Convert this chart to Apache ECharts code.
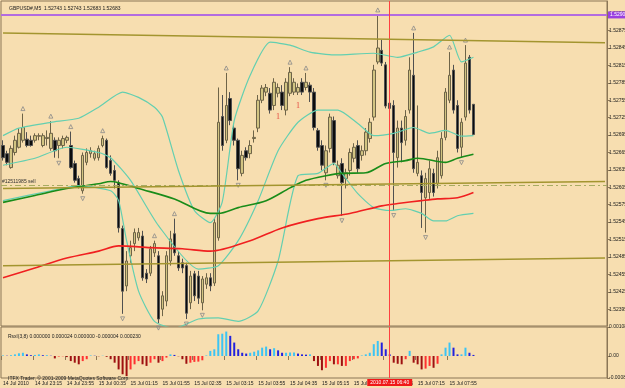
<!DOCTYPE html>
<html>
<head>
<meta charset="utf-8">
<script src="https://cdn.jsdelivr.net/npm/echarts@6/dist/echarts.min.js"></script>
<style>
html,body{margin:0;padding:0;background:#f7deb0;}
#main{width:625px;height:388px;}
</style>
</head>
<body>
<div id="main"></div>
<script>
// M5 bars: [open, close, low, high]
var candles = [
[1.52677,1.52656,1.52651,1.52686],[1.52663,1.52648,1.52643,1.52668],[1.52639,1.52672,1.52637,1.52677],
[1.52665,1.52686,1.52660,1.52694],[1.52674,1.52698,1.52672,1.52707],[1.52686,1.52708,1.52682,1.52732],
[1.52688,1.52677,1.52674,1.52700],[1.52686,1.52677,1.52675,1.52694],[1.52686,1.52694,1.52682,1.52698],
[1.52693,1.52694,1.52686,1.52698],[1.52677,1.52694,1.52674,1.52698],[1.52689,1.52691,1.52677,1.52703],
[1.52672,1.52698,1.52668,1.52719],[1.52686,1.52668,1.52656,1.52691],[1.52677,1.52686,1.52655,1.52691],
[1.52677,1.52689,1.52672,1.52694],[1.52686,1.52691,1.52681,1.52694],[1.52677,1.52639,1.52637,1.52701],
[1.52646,1.52617,1.52613,1.52651],[1.52620,1.52608,1.52603,1.52625],[1.52599,1.52660,1.52594,1.52665],
[1.52648,1.52665,1.52643,1.52672],[1.52663,1.52668,1.52656,1.52674],[1.52655,1.52663,1.52651,1.52668],
[1.52656,1.52672,1.52651,1.52677],[1.52677,1.52689,1.52674,1.52694],[1.52686,1.52639,1.52637,1.52689],
[1.52651,1.52629,1.52625,1.52660],[1.52634,1.52617,1.52603,1.52643],[1.52613,1.52535,1.52527,1.52617],
[1.52534,1.52426,1.52387,1.52539],[1.52435,1.52478,1.52426,1.52495],[1.52487,1.52501,1.52475,1.52513],
[1.52508,1.52527,1.52495,1.52534],[1.52518,1.52527,1.52513,1.52535],[1.52521,1.52449,1.52444,1.52530],
[1.52457,1.52447,1.52440,1.52464],[1.52457,1.52499,1.52452,1.52504],[1.52492,1.52508,1.52485,1.52513],
[1.52487,1.52378,1.52371,1.52495],[1.52395,1.52418,1.52383,1.52426],[1.52409,1.52487,1.52400,1.52495],
[1.52478,1.52516,1.52470,1.52530],[1.52525,1.52492,1.52487,1.52551],[1.52487,1.52466,1.52461,1.52495],
[1.52475,1.52466,1.52457,1.52482],[1.52470,1.52388,1.52378,1.52475],[1.52406,1.52452,1.52395,1.52461],
[1.52456,1.52418,1.52409,1.52461],[1.52452,1.52414,1.52404,1.52461],[1.52406,1.52447,1.52393,1.52452],
[1.52438,1.52449,1.52430,1.52457],[1.52449,1.52435,1.52426,1.52457],[1.52440,1.52544,1.52435,1.52551],
[1.52518,1.52717,1.52513,1.52777],[1.52727,1.52677,1.52668,1.52764],[1.52686,1.52746,1.52681,1.52802],
[1.52758,1.52720,1.52712,1.52769],[1.52707,1.52686,1.52677,1.52712],[1.52686,1.52637,1.52617,1.52689],
[1.52629,1.52660,1.52624,1.52668],[1.52668,1.52656,1.52651,1.52674],[1.52663,1.52677,1.52655,1.52686],
[1.52689,1.52691,1.52682,1.52703],[1.52707,1.52755,1.52700,1.52764],[1.52755,1.52776,1.52750,1.52781],
[1.52769,1.52777,1.52762,1.52783],[1.52767,1.52738,1.52732,1.52776],[1.52746,1.52786,1.52738,1.52793],
[1.52767,1.52777,1.52760,1.52784],[1.52769,1.52746,1.52738,1.52781],[1.52738,1.52786,1.52729,1.52793],
[1.52767,1.52803,1.52762,1.52812],[1.52769,1.52786,1.52764,1.52793],[1.52769,1.52777,1.52764,1.52784],
[1.52786,1.52769,1.52764,1.52793],[1.52777,1.52786,1.52772,1.52802],[1.52781,1.52769,1.52752,1.52786],
[1.52769,1.52708,1.52703,1.52776],[1.52703,1.52674,1.52668,1.52707],[1.52677,1.52643,1.52634,1.52686],
[1.52630,1.52668,1.52617,1.52677],[1.52672,1.52726,1.52665,1.52732],[1.52720,1.52648,1.52643,1.52727],
[1.52625,1.52643,1.52620,1.52651],[1.52646,1.52613,1.52556,1.52655],[1.52620,1.52630,1.52603,1.52637],
[1.52634,1.52665,1.52625,1.52672],[1.52655,1.52674,1.52648,1.52681],[1.52677,1.52637,1.52630,1.52686],
[1.52660,1.52668,1.52651,1.52677],[1.52668,1.52700,1.52660,1.52707],[1.52689,1.52717,1.52682,1.52724],
[1.52726,1.52807,1.52720,1.52816],[1.52821,1.52845,1.52817,1.52902],[1.52841,1.52819,1.52814,1.52859],
[1.52816,1.52745,1.52741,1.52821],[1.52750,1.52741,1.52734,1.52755],[1.52746,1.52665,1.52565,1.52755],
[1.52656,1.52707,1.52639,1.52720],[1.52707,1.52682,1.52648,1.52720],[1.52686,1.52727,1.52677,1.52738],
[1.52738,1.52807,1.52732,1.52829],[1.52798,1.52637,1.52630,1.52871],[1.52629,1.52648,1.52624,1.52746],
[1.52625,1.52596,1.52535,1.52634],[1.52587,1.52620,1.52527,1.52630],[1.52596,1.52637,1.52585,1.52651],
[1.52629,1.52596,1.52589,1.52637],[1.52611,1.52656,1.52603,1.52668],[1.52625,1.52689,1.52620,1.52700],
[1.52691,1.52769,1.52686,1.52776],[1.52755,1.52798,1.52750,1.52838],[1.52807,1.52738,1.52732,1.52816],
[1.52746,1.52672,1.52665,1.52755],[1.52674,1.52717,1.52656,1.52724],[1.52726,1.52819,1.52720,1.52850],
[1.52829,1.52738,1.52732,1.52833],[1.52748,1.52696,1.52696,1.52748]
];

// lower window histogram
var rsx = [
0.00002,0.00001,0.00003,0.00006,0.00010,0.00012,0.00006,0.00003,0.00004,0.00006,
0.00003,0.00003,0.00001,-0.00009,-0.00002,-0.00001,-0.00004,-0.00019,-0.00025,-0.00031,
-0.00019,-0.00012,0.00002,0.00001,-0.00001,0.00001,-0.00003,-0.00012,-0.00025,-0.00050,
-0.00068,-0.00075,-0.00050,-0.00031,-0.00019,-0.00031,-0.00037,-0.00025,-0.00012,-0.00025,
-0.00019,-0.00006,0.00006,0.00004,-0.00001,-0.00012,-0.00029,-0.00025,-0.00022,-0.00021,
-0.00016,0.00002,0.00019,0.00025,0.00081,0.00083,0.00091,0.00075,0.00050,0.00025,
0.00012,0.00009,0.00012,0.00016,0.00021,0.00031,0.00035,0.00025,0.00029,0.00021,
0.00012,0.00012,0.00013,0.00013,0.00009,0.00006,0.00005,0.00006,-0.00019,-0.00037,
-0.00053,-0.00044,-0.00019,-0.00031,-0.00031,-0.00037,-0.00037,-0.00019,-0.00012,-0.00009,
0.00002,0.00006,0.00012,0.00044,0.00056,0.00050,0.00025,0.00006,-0.00025,-0.00029,
-0.00031,-0.00012,0.00019,-0.00025,-0.00031,-0.00050,-0.00047,-0.00037,-0.00044,-0.00029,
0.00006,0.00031,0.00050,0.00031,0.00006,0.00006,0.00031,0.00012,0.00004
];

// bollinger bands, read at points: [bar, price]
var bbUpper = [[0,1.52694],[4,1.52707],[12,1.52717],[19,1.52724],[24,1.52743],[30,1.52769],[34,1.52760],
  [38,1.52743],[40,1.52726],[44,1.52634],[48,1.52565],[52,1.52544],[55,1.52580],[58,1.52720],[62,1.52798],
  [67,1.52855],[72,1.52850],[77,1.52838],[83,1.52833],[93,1.52836],[99,1.52829],[104,1.52838],[108,1.52847],
  [112,1.52867],[115,1.52821],[118,1.52829]];
var bbMiddle = [[0,1.52643],[8,1.52655],[16,1.52674],[24,1.52665],[27,1.52656],[32,1.52617],[39,1.52539],
  [49,1.52464],[54,1.52470],[59,1.52513],[64,1.52582],[69,1.52668],[74,1.52717],[79,1.52738],[84,1.52738],
  [89,1.52715],[93,1.52694],[98,1.52698],[103,1.52708],[107,1.52698],[111,1.52703],[115,1.52693],[118,1.52694]];
var bbLower = [[0,1.52582],[12,1.52599],[19,1.52608],[27,1.52599],[29,1.52582],[31,1.52513],[34,1.52426],
  [38,1.52374],[43,1.52362],[49,1.52378],[54,1.52380],[59,1.52374],[64,1.52392],[69,1.52478],[74,1.52625],
  [79,1.52629],[83,1.52646],[85,1.52629],[89,1.52594],[93,1.52570],[97,1.52565],[101,1.52568],[105,1.52560],
  [108,1.52547],[111,1.52547],[114,1.52556],[118,1.52560]];
// moving averages
var maGreen = [[0,1.52579],[8,1.52591],[16,1.52603],[24,1.52611],[27,1.52615],[29,1.52613],[34,1.52603],
  [43,1.52585],[52,1.52560],[54,1.52560],[59,1.52570],[66,1.52582],[72,1.52604],[76,1.52617],[81,1.52625],
  [85,1.52629],[91,1.52630],[96,1.52646],[101,1.52651],[104,1.52655],[111,1.52648],[114,1.52655],[118,1.52662]];
var maRed = [[0,1.52449],[8,1.52466],[16,1.52483],[24,1.52495],[29,1.52504],[37,1.52501],[45,1.52499],
  [52,1.52495],[62,1.52513],[70,1.52535],[79,1.52551],[87,1.52560],[95,1.52573],[99,1.52577],[105,1.52582],
  [109,1.52585],[114,1.52587],[118,1.52596]];

var fractalUp = [5, 12, 17, 25, 38, 43, 56, 72, 76, 94, 103, 112, 116];
var fractalDown = [14, 20, 30, 39, 46, 50, 59, 81, 85, 98, 106, 115];
var waveMarks = [[69, 1.52726], [74, 1.52746]];

// trend lines [from bar, price] -> [to bar, price]
var trendLines = [
  [[0, 1.52871], [151, 1.52854]],
  [[0, 1.52603], [151, 1.52615]],
  [[0, 1.52470], [151, 1.52483]]
];
var purpleLevel = 1.52902;
var orderLevel = 1.52608;
var bidLevel = 1.52698;
var cursorBar = 97;

var priceTicks = [1.52365,1.52395,1.52425,1.52455,1.52485,1.52515,1.52545,1.52575,1.52605,1.52635,
  1.52665,1.52695,1.52725,1.52755,1.52785,1.52815,1.52845,1.52875,1.52905];
var rsxTicks = [-0.00082, 0, 0.00108];
var timeLabels = ['14 Jul 2010','14 Jul 23:15','14 Jul 23:55','15 Jul 00:35','15 Jul 01:15','15 Jul 01:55',
  '15 Jul 02:35','15 Jul 03:15','15 Jul 03:55','15 Jul 04:35','15 Jul 05:15','15 Jul 05:55','15 Jul 06:35',
  '15 Jul 07:15','15 Jul 07:55'];

var slots = [];
for (var i = 0; i < 152; i++) slots.push(String(i));

var font = 'Liberation Sans';
var small = {fontSize: 5, color: '#202020', fontFamily: font, fontWeight: 'normal'};
var frame = '#8b7656';

var chart = echarts.init(document.getElementById('main'));
chart.setOption({
  animation: false,
  backgroundColor: '#f7deb0',
  title: [
    {text: 'GBPUSD#,M5  1.52743 1.52743 1.52683 1.52683', left: 4, top: 1, textStyle: small},
    {text: 'Rsxl(3,8) 0.000000 0.000024 0.000000 -0.000004 0.000230', left: 3, top: 329, textStyle: small},
    {text: 'ITFX Trader, \u00a9 2001-2009 MetaQuotes Software Corp.', left: 3, top: 371, textStyle: small}
  ],
  grid: [
    {left: 1, right: 18, top: 1, height: 325, show: true, borderColor: frame, borderWidth: 1,
     backgroundColor: 'transparent', containLabel: false, outerBoundsMode: 'none'},
    {left: 1, right: 18, top: 327, height: 51, show: true, borderColor: frame, borderWidth: 1,
     backgroundColor: 'transparent', containLabel: false, outerBoundsMode: 'none'}
  ],
  xAxis: [
    {type: 'category', gridIndex: 0, data: slots, axisLine: {show: false}, axisTick: {show: false},
     axisLabel: {show: false}, splitLine: {show: false}},
    {type: 'category', gridIndex: 1, data: slots, axisLine: {show: false},
     axisTick: {show: true, length: 4, inside: false, lineStyle: {color: frame},
       interval: function (idx) { return idx % 8 === 0 && idx / 8 < timeLabels.length; }},
     axisLabel: {show: true, interval: 7, align: 'left', margin: 3, fontSize: 5, color: '#202020', fontFamily: font,
       hideOverlap: false, showMinLabel: true,
       formatter: function (v, idx) { return timeLabels[idx / 8] || ''; }},
     splitLine: {show: false}}
  ],
  yAxis: [
    {type: 'value', gridIndex: 0, position: 'right', min: 1.52366, max: 1.52926, scale: true,
     axisLine: {show: true, lineStyle: {color: frame}},
     axisTick: {show: true, length: 3, customValues: priceTicks, lineStyle: {color: frame}},
     axisLabel: {show: true, customValues: priceTicks, margin: 2, fontSize: 5, color: '#202020', fontFamily: font,
       formatter: function (v) { return v.toFixed(5); }},
     splitLine: {show: false}},
    {type: 'value', gridIndex: 1, position: 'right', min: -0.00082, max: 0.00108,
     axisLine: {show: true, lineStyle: {color: frame}},
     axisTick: {show: true, length: 3, customValues: rsxTicks, lineStyle: {color: frame}},
     axisLabel: {show: true, customValues: rsxTicks, margin: 2, fontSize: 5, color: '#202020', fontFamily: font,
       formatter: function (v) { return v === 0 ? '0.00' : v.toFixed(5); }},
     splitLine: {show: false}}
  ],
  series: [
    {
      type: 'candlestick', xAxisIndex: 0, yAxisIndex: 0, data: candles, barWidth: 3,
      itemStyle: {color: '#d2c482', color0: '#0c0c0c', borderColor: '#6e6448', borderColor0: '#505050', borderWidth: 1},
      markLine: {
        silent: true, symbol: ['none', 'none'], precision: 5,
        data: [
          {yAxis: purpleLevel, lineStyle: {color: '#b36be0', width: 2, type: 'solid'},
           label: {show: true, position: 'end', distance: 1, formatter: '1.52902', fontSize: 5, color: '#fff',
             backgroundColor: '#9b40e0', padding: [1, 2], fontFamily: font}},
          {yAxis: orderLevel, lineStyle: {color: '#a7ac62', width: 1, type: [6, 3, 2, 3]},
           label: {show: true, position: 'insideStartTop', distance: 1, formatter: '#12511985 sell', fontSize: 5,
             color: '#303030', fontFamily: font}},
          {yAxis: bidLevel, lineStyle: {opacity: 0},
           label: {show: true, position: 'end', distance: 1, formatter: '1.52683', fontSize: 5, color: '#fff',
             backgroundColor: '#000', padding: [1, 2], fontFamily: font}},
          {xAxis: String(cursorBar), lineStyle: {color: '#ff4040', width: 1, type: 'solid'}, label: {show: false}}
        ].concat(trendLines.map(function (t) {
          return [{coord: t[0], lineStyle: {color: '#a3952f', width: 1.5, type: 'solid'}, label: {show: false}},
                  {coord: t[1]}];
        }))
      },
      z: 2
    },
    {type: 'line', xAxisIndex: 0, yAxisIndex: 0, data: bbUpper, showSymbol: false, smooth: 0.2,
     lineStyle: {color: '#63cfb0', width: 1.2}, z: 3},
    {type: 'line', xAxisIndex: 0, yAxisIndex: 0, data: bbMiddle, showSymbol: false, smooth: 0.2,
     lineStyle: {color: '#63cfb0', width: 1.2}, z: 3},
    {type: 'line', xAxisIndex: 0, yAxisIndex: 0, data: bbLower, showSymbol: false, smooth: 0.2,
     lineStyle: {color: '#63cfb0', width: 1.2}, z: 3},
    {type: 'line', xAxisIndex: 0, yAxisIndex: 0, data: maGreen, showSymbol: false, smooth: 0.3,
     lineStyle: {color: '#198c19', width: 1.6}, z: 3},
    {type: 'line', xAxisIndex: 0, yAxisIndex: 0, data: maRed, showSymbol: false, smooth: 0.3,
     lineStyle: {color: '#f02020', width: 1.6}, z: 3},
    {type: 'scatter', xAxisIndex: 0, yAxisIndex: 0, symbol: 'triangle', symbolSize: [4, 4], symbolOffset: [0, -5],
     data: fractalUp.map(function (i) { return [i, candles[i][3]]; }),
     itemStyle: {color: 'transparent', borderColor: '#8a8a8a', borderWidth: 1}, z: 4},
    {type: 'scatter', xAxisIndex: 0, yAxisIndex: 0, symbol: 'triangle', symbolRotate: 180, symbolSize: [4, 4],
     symbolOffset: [0, 5],
     data: fractalDown.map(function (i) { return [i, candles[i][2]]; }),
     itemStyle: {color: 'transparent', borderColor: '#8a8a8a', borderWidth: 1}, z: 4},
    {type: 'scatter', xAxisIndex: 0, yAxisIndex: 0, symbolSize: 0, data: waveMarks,
     label: {show: true, formatter: '1', position: 'inside', color: '#e02020', fontSize: 8, fontFamily: 'Liberation Serif'}, z: 4},
    {
      type: 'bar', xAxisIndex: 1, yAxisIndex: 1, data: rsx, barWidth: 2,
      itemStyle: {
        color: function (p) {
          var v = rsx[p.dataIndex], prev = p.dataIndex > 0 ? rsx[p.dataIndex - 1] : v;
          if (v >= 0) return v >= prev ? '#3cc4f4' : '#2222dd';
          return v < prev ? '#9e1010' : '#ff3030';
        }
      },
      markLine: {
        silent: true, symbol: ['none', 'none'],
        data: [{xAxis: String(cursorBar), lineStyle: {color: '#ff4040', width: 1, type: 'solid'},
          label: {show: true, position: 'start', distance: 1, formatter: '2010.07.15 06:40', fontSize: 5,
            color: '#fff', backgroundColor: '#f01818', padding: [1, 3], fontFamily: font}}]
      }
    }
  ]
});
</script>
</body>
</html>
